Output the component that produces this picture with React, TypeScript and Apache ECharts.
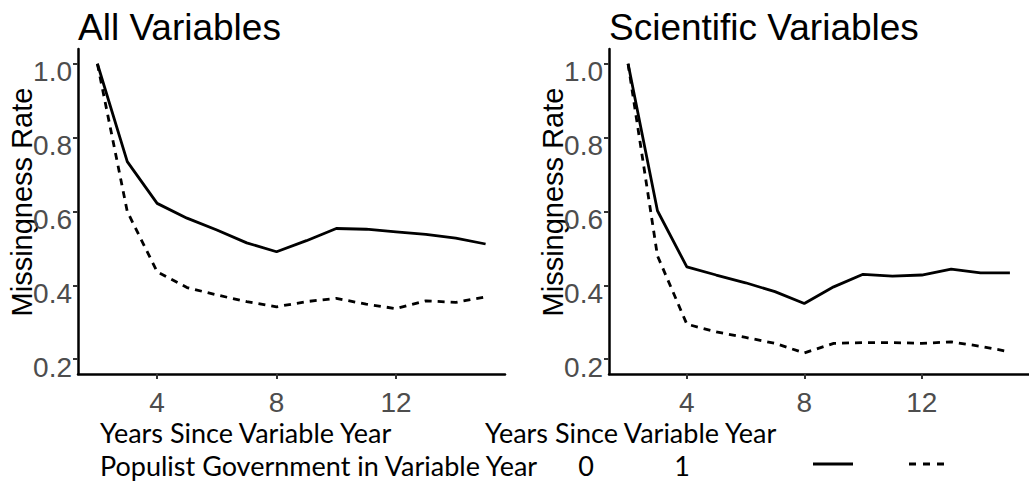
import React, { useEffect, useRef } from "react";
import * as echarts from "echarts";

const years = [2, 3, 4, 5, 6, 7, 8, 9, 10, 11, 12, 13, 14, 15];
const allNonPopulist = [1.0, 0.735, 0.622, 0.582, 0.55, 0.515, 0.491, 0.521, 0.554, 0.552, 0.545, 0.538, 0.528, 0.512];
const allPopulist = [1.0, 0.6, 0.437, 0.394, 0.374, 0.356, 0.342, 0.356, 0.365, 0.349, 0.337, 0.358, 0.354, 0.369];
const sciNonPopulist = [1.0, 0.602, 0.45, 0.428, 0.407, 0.383, 0.351, 0.396, 0.43, 0.425, 0.428, 0.444, 0.434, 0.434];
const sciPopulist = [1.0, 0.48, 0.295, 0.274, 0.259, 0.243, 0.217, 0.243, 0.245, 0.245, 0.243, 0.247, 0.235, 0.22];

const xTicks = [4, 8, 12];
const yTicks = [0.2, 0.4, 0.6, 0.8, 1.0];
const panelTitles = ["All Variables", "Scientific Variables"];
const yTitle = "Missingness Rate";
const xTitle = "Years Since Variable Year";
const legendTitle = "Populist Government in Variable Year";
const legendLabels = ["0", "1"];

const AXIS_FONT = "'Liberation Sans', Arial, sans-serif";
const NOTE_FONT = "Lato, 'Open Sans', sans-serif";

function pairs(vals: number[]) {
  return years.map((y, i) => [y, vals[i]]);
}

export default function App() {
  const ref = useRef<HTMLDivElement>(null);
  useEffect(() => {
    if (!ref.current) return;
    const chart = echarts.init(ref.current, null, { renderer: "svg" });
    const grids = [
      { left: 78, top: 49, width: 427, height: 325 },
      { left: 609, top: 49, width: 427, height: 325 },
    ];
    const xAxis = grids.map((_, i) => ({
      type: "value",
      gridIndex: i,
      min: 1.35,
      max: 15.65,
      splitLine: { show: false },
      axisLine: { show: true, lineStyle: { color: "#000", width: 2.5 } },
      axisTick: {
        show: true,
        customValues: xTicks,
        length: 5,
        lineStyle: { color: "#333", width: 2 },
      },
      axisLabel: {
        customValues: xTicks,
        color: "#4D4D4D",
        fontSize: 28,
        fontFamily: AXIS_FONT,
        margin: 14,
      },
    }));
    const yAxis = grids.map((_, i) => ({
      type: "value",
      gridIndex: i,
      min: 0.16,
      max: 1.04,
      splitLine: { show: false },
      axisLine: { show: true, lineStyle: { color: "#000", width: 2.5 } },
      axisTick: {
        show: true,
        customValues: yTicks,
        length: 5,
        lineStyle: { color: "#333", width: 2 },
      },
      axisLabel: {
        customValues: yTicks,
        color: "#4D4D4D",
        fontSize: 28,
        lineHeight: 16,
        fontFamily: AXIS_FONT,
        margin: 6,
        formatter: (v: number) => "\n" + v.toFixed(1),
      },
    }));
    const lineSeries = (data: number[], idx: number, dashed: boolean) => ({
      type: "line",
      xAxisIndex: idx,
      yAxisIndex: idx,
      data: pairs(data),
      showSymbol: false,
      symbol: "none",
      clip: false,
      lineStyle: { color: "#000", width: 2.8, type: dashed ? [7, 6] : "solid" },
    });
    const graphic: any[] = [];
    panelTitles.forEach((t, i) => {
      graphic.push({
        type: "text",
        x: grids[i].left,
        y: 27,
        style: {
          text: t,
          font: `37px ${AXIS_FONT}`,
          fill: "#000",
          textAlign: "left",
          textVerticalAlign: "middle",
        },
      });
      graphic.push({
        type: "text",
        x: grids[i].left - 56,
        y: 202,
        rotation: Math.PI / 2,
        style: {
          text: yTitle,
          font: `29px ${AXIS_FONT}`,
          fill: "#000",
          textAlign: "center",
          textVerticalAlign: "middle",
        },
      });
    });
    [100, 485].forEach((x) => {
      graphic.push({
        type: "text",
        x,
        y: 432,
        style: {
          text: xTitle,
          font: `27px ${NOTE_FONT}`,
          fill: "#000",
          textAlign: "left",
          textVerticalAlign: "middle",
        },
      });
    });
    graphic.push({
      type: "text",
      x: 100,
      y: 465,
      style: {
        text: legendTitle,
        font: `27px ${NOTE_FONT}`,
        fill: "#000",
        textAlign: "left",
        textVerticalAlign: "middle",
      },
    });
    [586, 682].forEach((x, i) => {
      graphic.push({
        type: "text",
        x,
        y: 465,
        style: {
          text: legendLabels[i],
          font: `27px ${NOTE_FONT}`,
          fill: "#000",
          textAlign: "center",
          textVerticalAlign: "middle",
        },
      });
    });
    graphic.push({
      type: "line",
      shape: { x1: 813, y1: 464, x2: 853, y2: 464 },
      style: { stroke: "#000", lineWidth: 3 },
    });
    graphic.push({
      type: "line",
      shape: { x1: 909, y1: 464, x2: 945, y2: 464 },
      style: { stroke: "#000", lineWidth: 3, lineDash: [7, 7] },
    });
    chart.setOption({
      animation: false,
      grid: grids,
      xAxis,
      yAxis,
      series: [
        lineSeries(allNonPopulist, 0, false),
        lineSeries(allPopulist, 0, true),
        lineSeries(sciNonPopulist, 1, false),
        lineSeries(sciPopulist, 1, true),
      ],
      graphic,
    });
    return () => chart.dispose();
  }, []);
  return (
    <div
      ref={ref}
      style={{ position: "fixed", left: 0, top: 0, width: 1029, height: 489, background: "#fff" }}
    />
  );
}
